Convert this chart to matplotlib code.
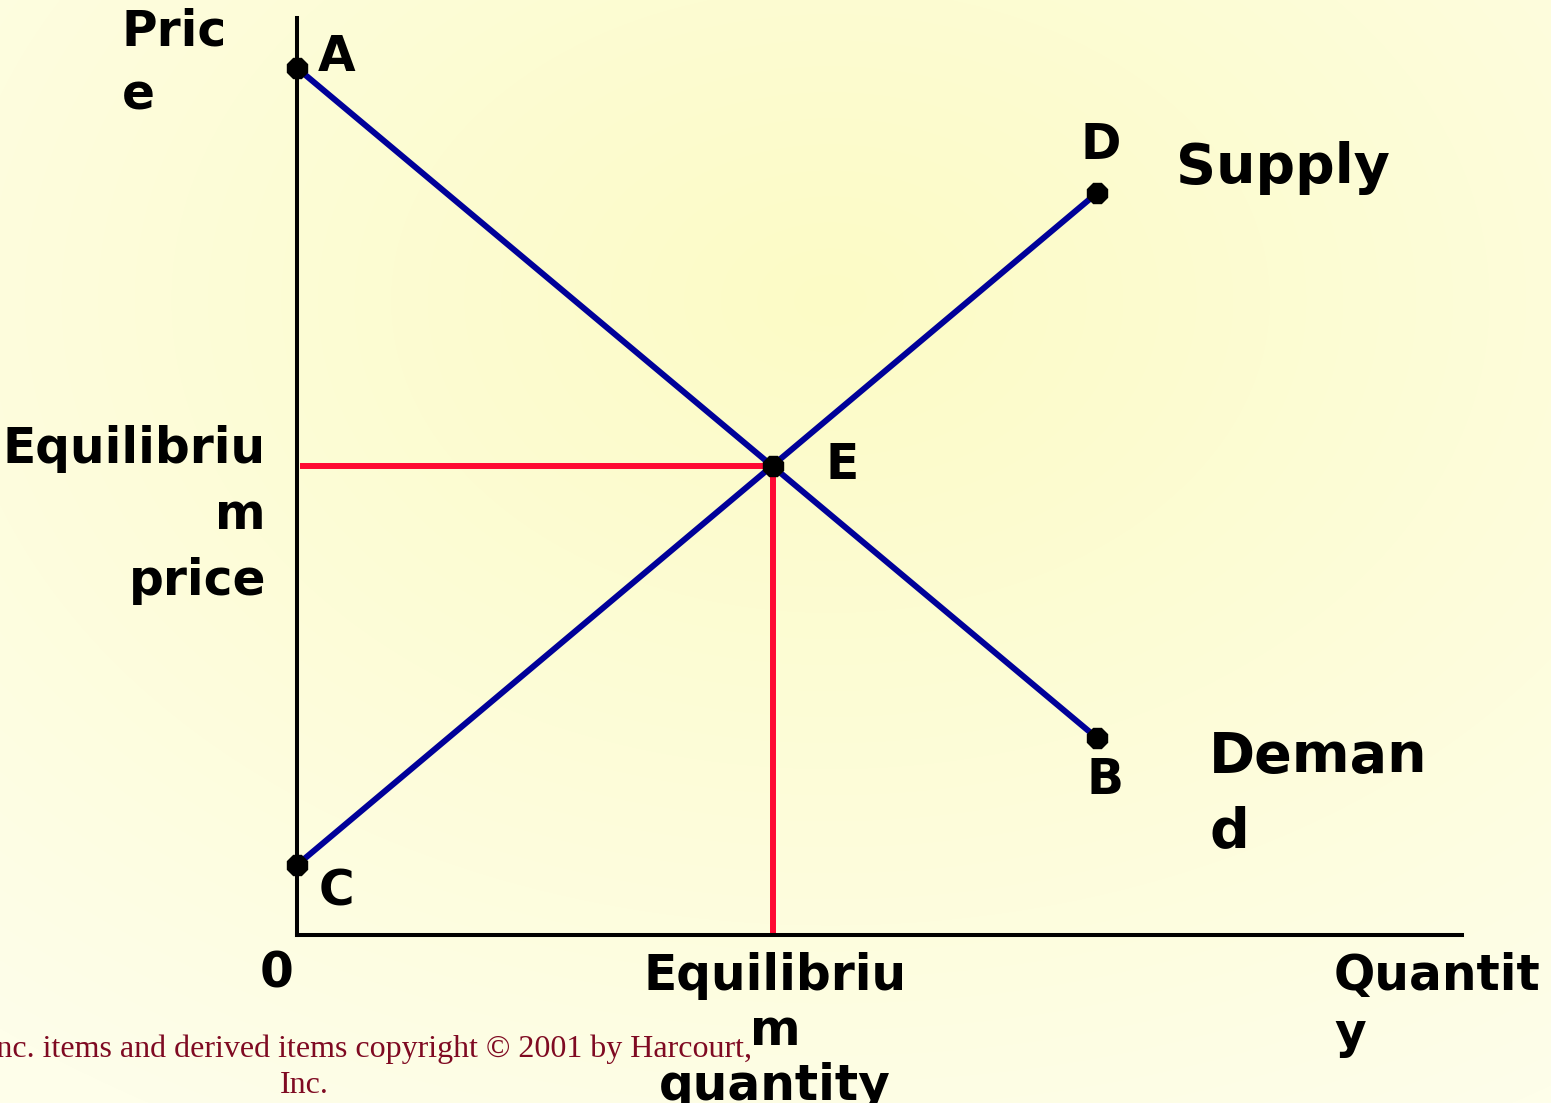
import numpy as np
import matplotlib
matplotlib.use('Agg')
import matplotlib.pyplot as plt

# supply / demand end points (quantity, price)
demand_q = [0.0, 8.0]
demand_p = [8.67, 1.97]
supply_q = [0.0, 8.0]
supply_p = [0.70, 7.42]
eq_q = 4.76
eq_p = 4.69

W, H = 1551, 1103
BLUE = '#000099'
RED = '#FF0A33'


def px(x, y):
    # pixel position -> figure fraction
    return x / W, 1 - y / H


fig = plt.figure(figsize=(W / 100, H / 100), dpi=100)

# background radial gradient
bg = fig.add_axes([0, 0, 1, 1], zorder=0)
yy, xx = np.mgrid[0:H, 0:W]
r = np.sqrt(((xx - 830) / W) ** 2 + ((yy - 300) / H) ** 2)
r = np.clip(r / 0.85, 0, 1)
c0 = np.array([252, 251, 198]) / 255
c1 = np.array([254, 254, 234]) / 255
img = c0[None, None, :] * (1 - r[..., None]) + c1[None, None, :] * r[..., None]
bg.imshow(img, aspect='auto', extent=[0, W, H, 0])
bg.axis('off')

# main axes, origin at the chart's 0
left, bottom = px(297, 935)
right, top = px(1462, 18)
ax = fig.add_axes([left, bottom, right - left, top - bottom], zorder=1)
ax.set_facecolor('none')
ax.set_xlim(0, 11.65)
ax.set_ylim(0, 9.17)
for s in ['top', 'right']:
    ax.spines[s].set_visible(False)
for s in ['left', 'bottom']:
    ax.spines[s].set_linewidth(2.9)
    ax.spines[s].set_color('black')
ax.set_xticks([])
ax.set_yticks([])

# red equilibrium guides
ax.plot([0.03, eq_q], [eq_p, eq_p], color=RED, lw=4.3, solid_capstyle='butt', zorder=2)
ax.plot([eq_q, eq_q], [0, eq_p], color=RED, lw=4.3, solid_capstyle='butt', zorder=2)

# demand and supply curves
ax.plot(demand_q, demand_p, color=BLUE, lw=4.3, zorder=3, clip_on=False)
ax.plot(supply_q, supply_p, color=BLUE, lw=4.3, zorder=3, clip_on=False)

# end points and equilibrium
mk = dict(marker='8', color='black', markersize=16, ls='none', zorder=4, clip_on=False)
ax.plot(demand_q, demand_p, **mk)
ax.plot(supply_q, supply_p, **mk)
ax.plot([eq_q], [eq_p], **mk)

lab = dict(fontfamily='DejaVu Sans', fontweight='bold', color='black')

fig.text(*px(122, 8), 'Pric\ne', ha='left', va='top', fontsize=35, linespacing=1.40, **lab)
fig.text(*px(318, 57), 'A', ha='left', va='center', fontsize=35, **lab)
fig.text(*px(1101, 145), 'D', ha='center', va='center', fontsize=35, **lab)
fig.text(*px(1176, 168), 'Supply', ha='left', va='center', fontsize=40, **lab)
fig.text(*px(825, 465), 'E', ha='left', va='center', fontsize=35, **lab)
fig.text(*px(1105, 780), 'B', ha='center', va='center', fontsize=35, **lab)
fig.text(*px(1209, 730), 'Deman\nd', ha='left', va='top', fontsize=40, linespacing=1.51, **lab)
fig.text(*px(319, 892), 'C', ha='left', va='center', fontsize=35, **lab)
fig.text(*px(277, 974), '0', ha='center', va='center', fontsize=35, **lab)
fig.text(*px(266, 425), 'Equilibriu\nm\nprice', ha='right', va='top', fontsize=35,
         linespacing=1.47, multialignment='right', **lab)
fig.text(*px(775, 952), 'Equilibriu\nm\nquantity', ha='center', va='top', fontsize=35,
         linespacing=1.19, multialignment='center', **lab)
fig.text(*px(1334, 952), 'Quantit\ny', ha='left', va='top', fontsize=35,
         linespacing=1.26, multialignment='left', **lab)

fig.text(*px(304, 1034), 'Harcourt, Inc. items and derived items copyright \u00a9 2001 by Harcourt,\nInc.',
         ha='center', va='top', fontsize=23, fontfamily='Liberation Serif',
         color='#7F0A22', linespacing=1.32, zorder=5)

fig.savefig('out.png', dpi=100)
